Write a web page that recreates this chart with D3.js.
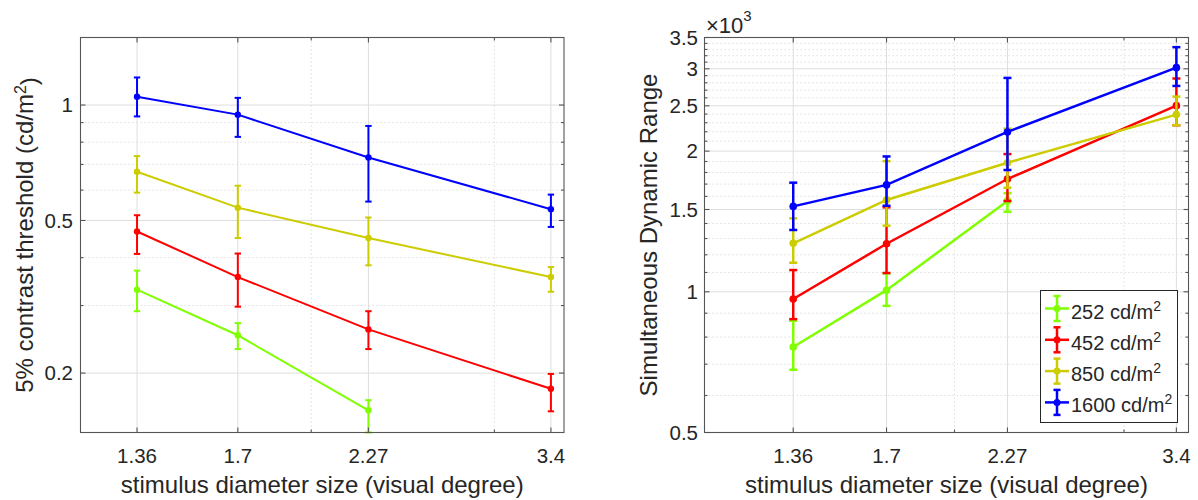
<!DOCTYPE html>
<html>
<head>
<meta charset="utf-8">
<script src="https://cdn.jsdelivr.net/npm/d3@7/dist/d3.min.js"></script>
<style>
  html, body { margin: 0; padding: 0; background: #ffffff; }
  svg text { font-family: "Liberation Sans", Arial, Helvetica, sans-serif; fill: #262626; }
</style>
</head>
<body>
<script>
// Stimulus diameters (visual degree) shared by both panels
const sizes = [1.36, 1.7, 2.27, 3.4];
const sizeTickLabels = ["1.36", "1.7", "2.27", "3.4"];

// Adapting luminance of each series (cd/m^2)
const luminances = ["252", "452", "850", "1600"];
const seriesColors = ["#80ff00", "#ff0000", "#cccc00", "#0000ff"];

// Panel A: 5% contrast threshold (cd/m^2) — mean, lower and upper error limits
const thr252Mean  = [0.330, 0.251, 0.160];
const thr252Low   = [0.290, 0.231, 0.140];
const thr252High  = [0.370, 0.270, 0.170];
const thr452Mean  = [0.468, 0.356, 0.260, 0.182];
const thr452Low   = [0.409, 0.298, 0.231, 0.159];
const thr452High  = [0.516, 0.410, 0.290, 0.199];
const thr850Mean  = [0.670, 0.540, 0.450, 0.356];
const thr850Low   = [0.591, 0.450, 0.382, 0.326];
const thr850High  = [0.736, 0.616, 0.509, 0.378];
const thr1600Mean = [1.051, 0.944, 0.730, 0.535];
const thr1600Low  = [0.934, 0.826, 0.560, 0.481];
const thr1600High = [1.180, 1.044, 0.882, 0.584];

// Panel B: simultaneous dynamic range — mean, lower and upper error limits
const dr252Mean  = [762, 1008, 1565];
const dr252Low   = [681, 933, 1483];
const dr252High  = [867, 1095, 1625];
const dr452Mean  = [965, 1267, 1743, 2502];
const dr452Low   = [874, 1097, 1564, 2272];
const dr452High  = [1113, 1516, 1971, 2860];
const dr850Mean  = [1270, 1572, 1889, 2394];
const dr850Low   = [1154, 1385, 1670, 2272];
const dr850High  = [1436, 1903, 2234, 2616];
const dr1600Mean = [1523, 1693, 2198, 3017];
const dr1600Low  = [1356, 1528, 1822, 2757];
const dr1600High = [1712, 1948, 2868, 3337];

// Axis ticks
const thrMajorTicks = [0.2, 0.5, 1];
const thrTickLabels = ["0.2", "0.5", "1"];
const thrMinorTicks = [0.3, 0.4, 0.6, 0.7, 0.8, 0.9];
const drMajorTicks = [500, 1000, 1500, 2000, 2500, 3000, 3500];
const drTickLabels = ["0.5", "1", "1.5", "2", "2.5", "3", "3.5"];
const drMinorTicks = [600, 700, 800, 900, 1100, 1200, 1300, 1400, 1600, 1700, 1800, 1900,
                      2100, 2200, 2300, 2400, 2600, 2700, 2800, 2900, 3100, 3200, 3300, 3400];
const sizeMinorTicks = [2, 3];

function buildSeries(means, lows, highs) {
  return means.map((m, i) => sizes.slice(0, m.length).map((s, j) => ({
    x: s, y: m[j], lo: lows[i][j], hi: highs[i][j]
  })));
}

const thrSeries = buildSeries(
  [thr252Mean, thr452Mean, thr850Mean, thr1600Mean],
  [thr252Low, thr452Low, thr850Low, thr1600Low],
  [thr252High, thr452High, thr850High, thr1600High]);
const drSeries = buildSeries(
  [dr252Mean, dr452Mean, dr850Mean, dr1600Mean],
  [dr252Low, dr452Low, dr850Low, dr1600Low],
  [dr252High, dr452High, dr850High, dr1600High]);

const svg = d3.select("body").append("svg")
  .attr("width", 1198).attr("height", 500);

const AXIS_COLOR = "#555555";
const GRID_COLOR = "#dedede";
const TICK_FONT = "20.5px";
const LABEL_FONT = "24px";

function drawPanel(p) {
  const g = svg.append("g");
  const x = p.x, y = p.y;
  const [x0, x1] = x.range();
  const [y1, y0] = y.range();

  // grid: minor dotted, major solid
  const grid = g.append("g");
  grid.selectAll(".gxm").data(sizeMinorTicks).join("line")
    .attr("x1", d => x(d)).attr("x2", d => x(d)).attr("y1", y0).attr("y2", y1)
    .attr("stroke", GRID_COLOR).attr("stroke-dasharray", "1.5,2.5");
  grid.selectAll(".gym").data(p.yMinor).join("line")
    .attr("x1", x0).attr("x2", x1).attr("y1", d => y(d)).attr("y2", d => y(d))
    .attr("stroke", GRID_COLOR).attr("stroke-dasharray", "1.5,2.5");
  grid.selectAll(".gx").data(sizes).join("line")
    .attr("x1", d => x(d)).attr("x2", d => x(d)).attr("y1", y0).attr("y2", y1)
    .attr("stroke", GRID_COLOR);
  grid.selectAll(".gy").data(p.yMajor).join("line")
    .attr("x1", x0).attr("x2", x1).attr("y1", d => y(d)).attr("y2", d => y(d))
    .attr("stroke", GRID_COLOR);

  // data: lines, error bars, markers
  p.series.forEach((pts, i) => {
    const c = seriesColors[i];
    const sg = g.append("g");
    sg.append("path").datum(pts)
      .attr("d", d3.line().x(d => x(d.x)).y(d => y(d.y)))
      .attr("fill", "none").attr("stroke", c).attr("stroke-width", p.lw);
    const eb = sg.selectAll(".eb").data(pts).join("g");
    eb.append("line")
      .attr("x1", d => x(d.x)).attr("x2", d => x(d.x))
      .attr("y1", d => y(d.lo)).attr("y2", d => y(d.hi))
      .attr("stroke", c).attr("stroke-width", p.lw);
    ["lo", "hi"].forEach(k => {
      eb.append("line")
        .attr("x1", d => x(d.x) - p.cap).attr("x2", d => x(d.x) + p.cap)
        .attr("y1", d => y(d[k])).attr("y2", d => y(d[k]))
        .attr("stroke", c).attr("stroke-width", p.lw);
    });
    eb.append("circle")
      .attr("cx", d => x(d.x)).attr("cy", d => y(d.y)).attr("r", p.r)
      .attr("fill", c);
  });

  // axes box and inward ticks on all four sides
  const ax = g.append("g").attr("stroke", AXIS_COLOR).attr("stroke-width", 1.1);
  ax.append("rect").attr("x", x0).attr("y", y0).attr("width", x1 - x0).attr("height", y1 - y0)
    .attr("fill", "none");
  const xt = sizes.map(v => ({ v, len: 5 })).concat(sizeMinorTicks.map(v => ({ v, len: 3 })));
  const yt = p.yMajor.map(v => ({ v, len: 5 })).concat(p.yMinor.map(v => ({ v, len: 3 })));
  ax.selectAll(".xtb").data(xt).join("line")
    .attr("x1", d => x(d.v)).attr("x2", d => x(d.v)).attr("y1", y1).attr("y2", d => y1 - d.len);
  ax.selectAll(".xtt").data(xt).join("line")
    .attr("x1", d => x(d.v)).attr("x2", d => x(d.v)).attr("y1", y0).attr("y2", d => y0 + d.len);
  ax.selectAll(".ytl").data(yt).join("line")
    .attr("y1", d => y(d.v)).attr("y2", d => y(d.v)).attr("x1", x0).attr("x2", d => x0 + d.len);
  ax.selectAll(".ytr").data(yt).join("line")
    .attr("y1", d => y(d.v)).attr("y2", d => y(d.v)).attr("x1", x1).attr("x2", d => x1 - d.len);

  // tick labels
  g.selectAll(".xl").data(sizes).join("text")
    .attr("x", d => x(d)).attr("y", 463)
    .attr("text-anchor", "middle").style("font-size", TICK_FONT)
    .text((d, i) => sizeTickLabels[i]);
  g.selectAll(".yl").data(p.yMajor).join("text")
    .attr("x", p.yLabelX).attr("y", d => y(d)).attr("dy", "0.36em")
    .attr("text-anchor", "end").style("font-size", TICK_FONT)
    .text((d, i) => p.yTickLabels[i]);

  // axis titles
  g.append("text")
    .attr("x", (x0 + x1) / 2).attr("y", 493)
    .attr("text-anchor", "middle").style("font-size", LABEL_FONT)
    .text("stimulus diameter size (visual degree)");
  const yt2 = g.append("text")
    .attr("transform", `translate(${p.yTitleX},${(y0 + y1) / 2}) rotate(-90)`)
    .attr("text-anchor", "middle").style("font-size", LABEL_FONT);
  p.yTitle(yt2);
  return g;
}

// Panel A
drawPanel({
  x: d3.scaleLog().domain([1.2, 3.5]).range([80.5, 564]),
  y: d3.scaleLog().domain([0.14, 1.5]).range([432.5, 37.5]),
  yMajor: thrMajorTicks, yMinor: thrMinorTicks, yTickLabels: thrTickLabels,
  series: thrSeries, lw: 2, cap: 3.2, r: 3.2,
  yLabelX: 73, yTitleX: 33,
  yTitle: t => {
    t.append("tspan").text("5% contrast threshold (cd/m");
    t.append("tspan").attr("dy", "-0.45em").style("font-size", "16px").text("2");
    t.append("tspan").attr("dy", "0.45em").text(")");
  }
});

// Panel B
drawPanel({
  x: d3.scaleLog().domain([1.1, 3.5]).range([704.5, 1188.5]),
  y: d3.scaleLog().domain([500, 3500]).range([432.5, 37.5]),
  yMajor: drMajorTicks, yMinor: drMinorTicks, yTickLabels: drTickLabels,
  series: drSeries, lw: 2.5, cap: 4, r: 3.8,
  yLabelX: 698, yTitleX: 657,
  yTitle: t => t.text("Simultaneous Dynamic Range")
});

// exponent label for panel B's y axis
const expo = svg.append("text").attr("x", 706).attr("y", 33).style("font-size", "22px");
expo.append("tspan").text("\u00d710");
expo.append("tspan").attr("dy", "-12").style("font-size", "15px").text("3");

// legend
const leg = svg.append("g");
leg.append("rect").attr("x", 1040.5).attr("y", 290.5).attr("width", 137).attr("height", 132)
  .attr("fill", "#ffffff").attr("stroke", "#262626").attr("stroke-width", 1);
const entries = leg.selectAll(".le").data(luminances).join("g")
  .attr("transform", (d, i) => `translate(0,${308.5 + i * 31.3})`);
entries.append("line").attr("x1", 1045).attr("x2", 1069).attr("y1", 0).attr("y2", 0)
  .attr("stroke", (d, i) => seriesColors[i]).attr("stroke-width", 2.5);
entries.append("line").attr("x1", 1057).attr("x2", 1057).attr("y1", -12.5).attr("y2", 12.5)
  .attr("stroke", (d, i) => seriesColors[i]).attr("stroke-width", 2.5);
[-12.5, 12.5].forEach(dy => {
  entries.append("line").attr("x1", 1053.5).attr("x2", 1060.5).attr("y1", dy).attr("y2", dy)
    .attr("stroke", (d, i) => seriesColors[i]).attr("stroke-width", 2.5);
});
entries.append("circle").attr("cx", 1057).attr("cy", 0).attr("r", 3.5)
  .attr("fill", (d, i) => seriesColors[i]);
const lt = entries.append("text").attr("x", 1071).attr("y", 10).style("font-size", "20px");
lt.append("tspan").text(d => d + " cd/m");
lt.append("tspan").attr("dy", "-8").style("font-size", "14px").text("2");
</script>
</body>
</html>
